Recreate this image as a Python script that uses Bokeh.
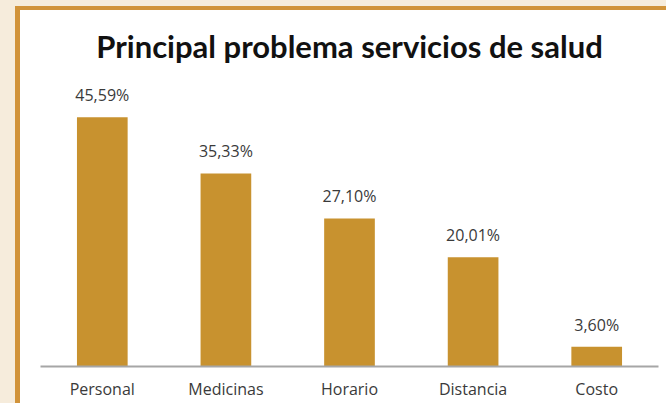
from bokeh.plotting import figure
from bokeh.models import ColumnDataSource, FactorRange, Range1d
from bokeh.layouts import column
from bokeh.core.properties import value
from bokeh.embed import file_html
from bokeh.resources import INLINE

categories = ["Personal", "Medicinas", "Horario", "Distancia", "Costo"]
values = [45.59, 35.33, 27.10, 20.01, 3.60]
labels = ["45,59%", "35,33%", "27,10%", "20,01%", "3,60%"]

BEIGE = "#F6ECDC"
GOLD = "#D1933A"
BAR = "#C8922F"

src = ColumnDataSource(dict(cat=categories, val=values, lab=labels))

p = figure(
    width=651, height=397,
    x_range=FactorRange(factors=categories, range_padding=0),
    y_range=Range1d(0, 53.8),
    output_backend="svg", toolbar_location=None,
    min_border_left=20, min_border_right=13, min_border_top=62, min_border_bottom=41,
    background_fill_color="white", border_fill_color="white",
    styles={"border-left": f"5px solid {GOLD}", "border-top": f"4px solid {GOLD}",
            "background-color": "white"},
)
p.outline_line_color = None
p.xgrid.visible = False
p.ygrid.visible = False
p.yaxis.visible = False

p.title.text = "Principal problema servicios de salud"
p.title.align = "center"
p.title.text_font = "Lato"
p.title.text_font_style = "bold"
p.title.text_font_size = "31px"
p.title.text_color = "#111111"
p.title.standoff = 16

p.vbar(x="cat", top="val", width=0.41, source=src, color=BAR, line_color=None)
p.text(x="cat", y="val", text="lab", source=src, text_align="center",
       text_baseline="alphabetic", y_offset=-22, text_font=value("Open Sans"),
       text_font_size="16px", text_color="#3A3A3A")

ax = p.xaxis[0]
ax.axis_line_color = "#A6A6A6"
ax.axis_line_width = 2
ax.major_tick_line_color = None
ax.minor_tick_line_color = None
ax.major_tick_out = 0
ax.major_tick_in = 0
ax.major_label_standoff = 11
ax.major_label_text_font = "Open Sans"
ax.major_label_text_font_size = "16px"
ax.major_label_text_color = "#3A3A3A"

page = column(p, styles={"background-color": BEIGE, "padding": "6px 0 0 15px"})

open("out.html", "w").write(file_html(page, INLINE))
